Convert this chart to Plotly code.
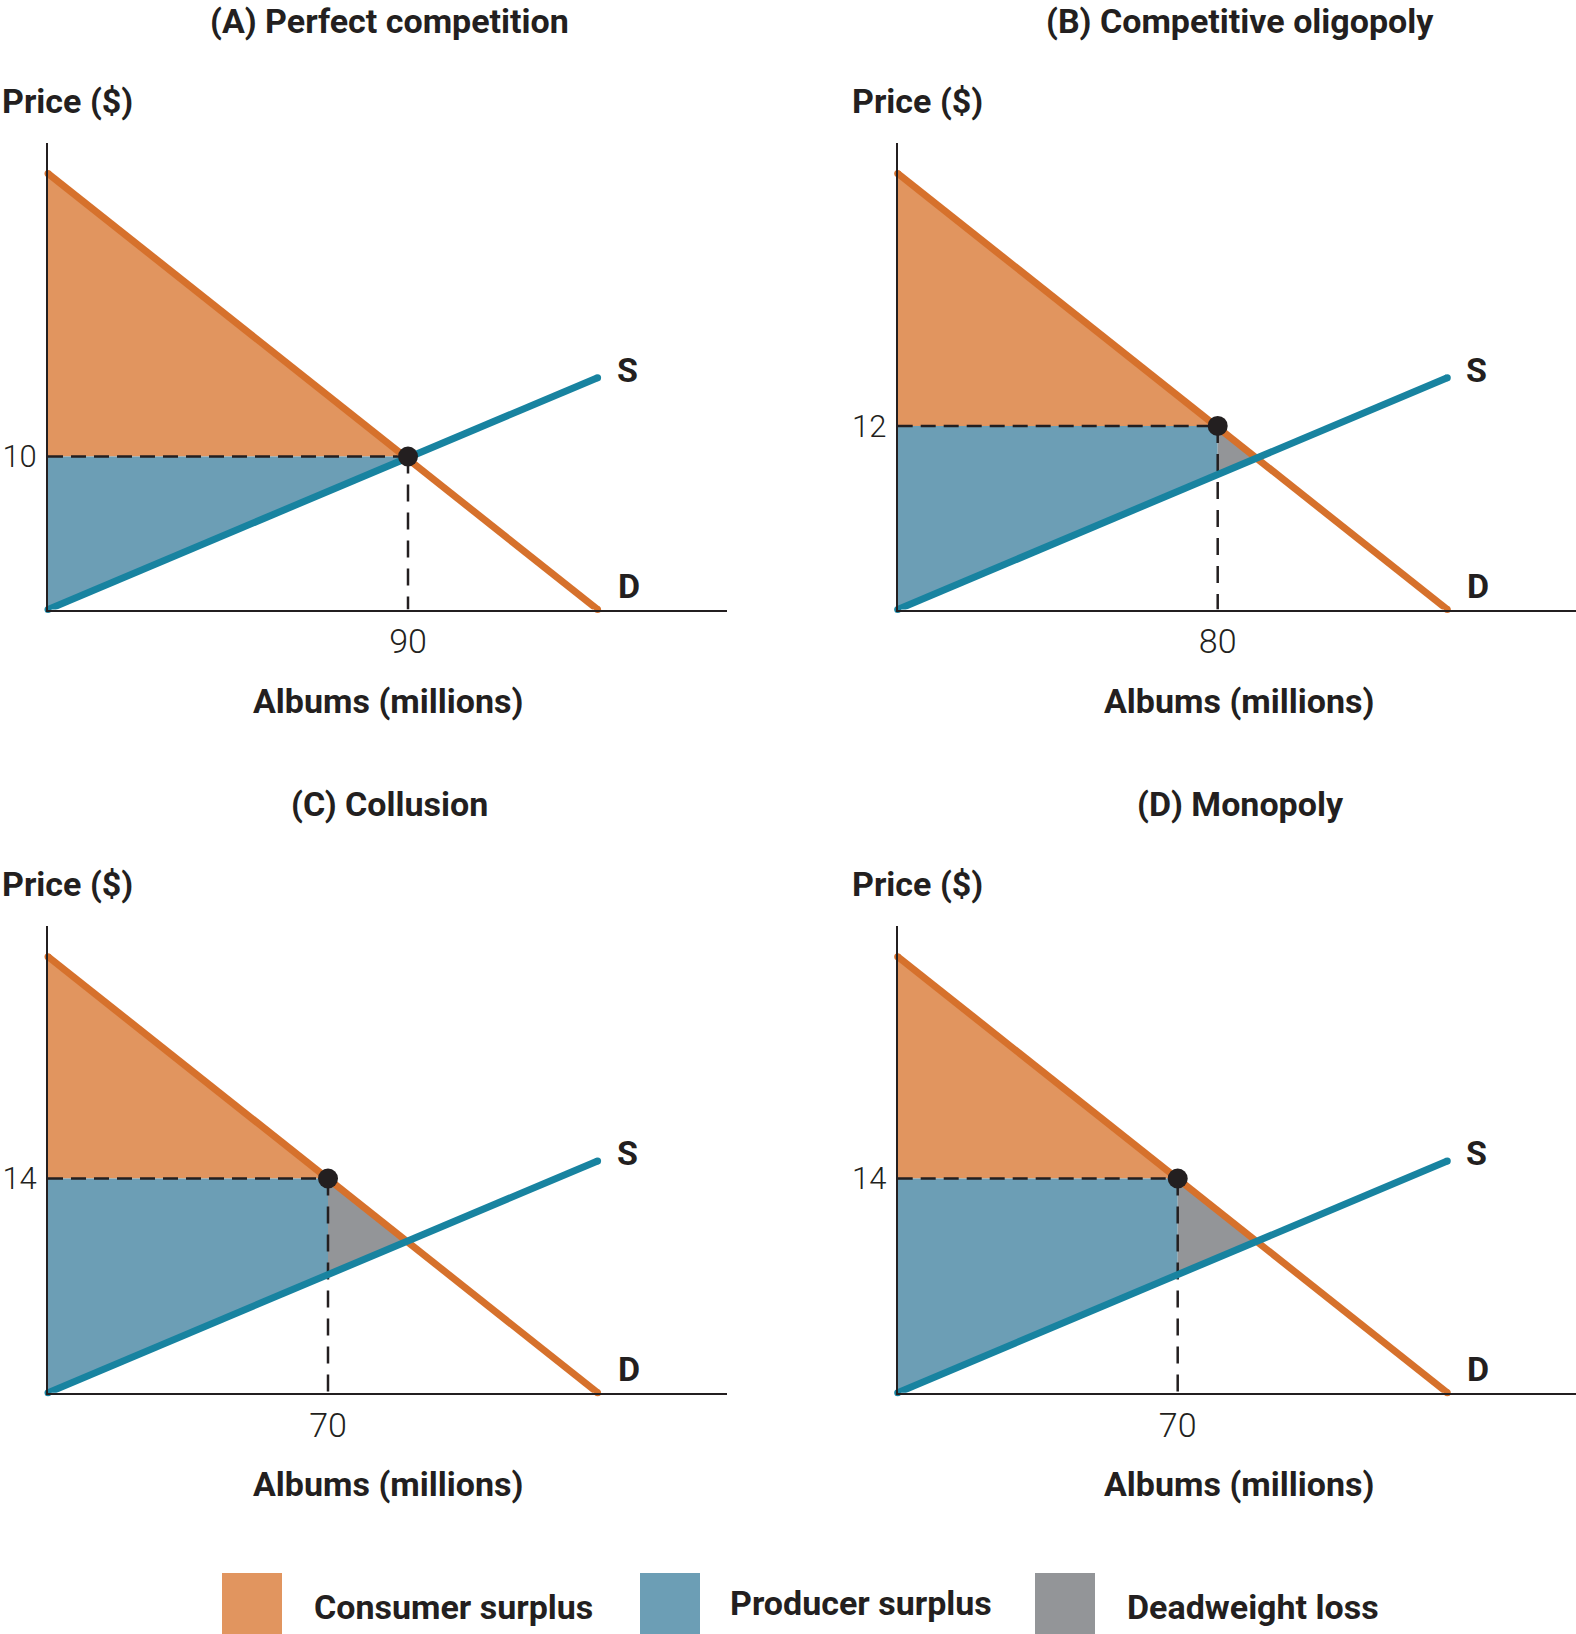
import plotly.graph_objects as go

W, H = 1576, 1634

# demand and supply curves (same in every panel)
demand_q = [0, 137.4]
demand_p = [28.5, 0]
supply_q = [0, 137.4]
supply_p = [0, 15.15]

titles = ['(A) Perfect competition', '(B) Competitive oligopoly',
          '(C) Collusion', '(D) Monopoly']
market_q = [90, 80, 70, 70]
market_p = [10, 12, 14, 14]

legend_labels = ['Consumer surplus', 'Producer surplus', 'Deadweight loss']

CS_FILL = '#E1955F'
PS_FILL = '#6C9EB5'
DWL_FILL = '#939598'
D_LINE = '#D6712C'
S_LINE = '#1883A0'
INK = '#231F20'

FONT = 'Roboto, Liberation Sans, sans-serif'


def lerp(qs, ps, q):
    return ps[0] + (ps[1] - ps[0]) * (q - qs[0]) / (qs[1] - qs[0])


def demand_qty(p):
    return demand_q[0] + (demand_q[1] - demand_q[0]) * (p - demand_p[0]) / (demand_p[1] - demand_p[0])


# equilibrium of the two straight lines
d_slope = (demand_p[1] - demand_p[0]) / (demand_q[1] - demand_q[0])
s_slope = (supply_p[1] - supply_p[0]) / (supply_q[1] - supply_q[0])
q_eq = (demand_p[0] - supply_p[0]) / (s_slope - d_slope)
p_eq = supply_p[0] + s_slope * q_eq

# panel boxes in pixels: left, right, top, bottom
boxes = [(48, 727, 143, 609.5), (897.7, 1576, 143, 609.5),
         (48, 727, 926, 1392.7), (897.7, 1576, 926, 1392.7)]
PX_Q, PX_P = 4.0, 15.3


def px(x):
    return x / W


def py(y):
    return 1 - y / H


fig = go.Figure()
annotations = []
shapes = []

for i in range(4):
    n = '' if i == 0 else str(i + 1)
    xa, ya = 'x' + n, 'y' + n
    q, p = market_q[i], market_p[i]
    s_at_q = lerp(supply_q, supply_p, q)
    common = dict(xaxis=xa, yaxis=ya, hoverinfo='skip', showlegend=False)

    # consumer surplus
    fig.add_trace(go.Scatter(x=[0, 0, demand_qty(p)], y=[p, demand_p[0], p],
                             fill='toself', fillcolor=CS_FILL, mode='lines',
                             line=dict(width=0), **common))
    # producer surplus
    fig.add_trace(go.Scatter(x=[0, 0, q, q], y=[0, p, p, s_at_q],
                             fill='toself', fillcolor=PS_FILL, mode='lines',
                             line=dict(width=0), **common))
    # deadweight loss
    if q < q_eq - 1:
        fig.add_trace(go.Scatter(x=[q, q_eq, q], y=[lerp(demand_q, demand_p, q), p_eq, s_at_q],
                                 fill='toself', fillcolor=DWL_FILL, mode='lines',
                                 line=dict(width=0), **common))
    # dashed guides
    fig.add_trace(go.Scatter(x=[0, q], y=[p, p], mode='lines',
                             line=dict(color=INK, width=2.5, dash='15px,8px'), **common))
    fig.add_trace(go.Scatter(x=[q, q], y=[p, 0], mode='lines',
                             line=dict(color=INK, width=2.5, dash='17px,11px'), **common))
    # curves, with dots at the ends standing in for round caps
    fig.add_trace(go.Scatter(x=demand_q, y=demand_p, mode='lines+markers', cliponaxis=False,
                             line=dict(color=D_LINE, width=7),
                             marker=dict(color=D_LINE, size=7), **common))
    fig.add_trace(go.Scatter(x=supply_q, y=supply_p, mode='lines+markers', cliponaxis=False,
                             line=dict(color=S_LINE, width=7),
                             marker=dict(color=S_LINE, size=7), **common))
    # market point
    fig.add_trace(go.Scatter(x=[q], y=[p], mode='markers', cliponaxis=False,
                             marker=dict(color=INK, size=20), **common))

    left, right, top, bottom = boxes[i]
    fig.layout['xaxis' + n] = dict(
        domain=[px(left), px(right)], range=[0, (right - left) / PX_Q],
        anchor=ya, showgrid=False, zeroline=False, showline=True, automargin=False,
        linecolor=INK, linewidth=2, ticks='', tickvals=[q], ticktext=[str(q)],
        ticklabelstandoff=1, tickfont=dict(family=FONT, size=34, color=INK, weight=300),
        fixedrange=True)
    fig.layout['yaxis' + n] = dict(
        domain=[py(bottom), py(top)], range=[0, (bottom - top) / PX_P],
        anchor=xa, showgrid=False, zeroline=False, showline=True, automargin=False,
        linecolor=INK, linewidth=2, ticks='', tickvals=[p], ticktext=[str(p)],
        ticklabelstandoff=3, tickfont=dict(family=FONT, size=31, color=INK, weight=300),
        fixedrange=True)

    cx = 389 if i % 2 == 0 else 1240
    annotations.append(dict(text='<b>%s</b>' % titles[i], xref='paper', yref='paper',
                            x=px(cx), y=py(top - 122), xanchor='center', yanchor='middle',
                            showarrow=False, font=dict(family=FONT, size=34, color=INK)))
    annotations.append(dict(text='<b>Price ($)</b>', xref='paper', yref='paper',
                            x=px(left - 48), y=py(top - 42), xanchor='left', yanchor='middle',
                            showarrow=False, font=dict(family=FONT, size=34, color=INK)))
    annotations.append(dict(text='<b>Albums (millions)</b>', xref='paper', yref='paper',
                            x=px(cx - 1), y=py(bottom + 91), xanchor='center', yanchor='middle',
                            showarrow=False, font=dict(family=FONT, size=34, color=INK)))
    annotations.append(dict(text='<b>S</b>', xref=xa, yref=ya, x=supply_q[1], y=supply_p[1],
                            xanchor='left', yanchor='middle', xshift=17, yshift=8,
                            showarrow=False, font=dict(family=FONT, size=34, color=INK)))
    annotations.append(dict(text='<b>D</b>', xref=xa, yref=ya, x=demand_q[1], y=demand_p[1],
                            xanchor='left', yanchor='middle', xshift=18, yshift=24,
                            showarrow=False, font=dict(family=FONT, size=34, color=INK)))

# legend swatches and labels
swatch_x = [222, 640, 1035]
label_x = [312, 728, 1125]
label_y = [1607, 1603, 1607]
for k, (lab, col) in enumerate(zip(legend_labels, [CS_FILL, PS_FILL, DWL_FILL])):
    shapes.append(dict(type='rect', xref='paper', yref='paper',
                       x0=px(swatch_x[k]), x1=px(swatch_x[k] + 60), y0=0, y1=py(1573),
                       fillcolor=col, line=dict(width=0)))
    annotations.append(dict(text='<b>%s</b>' % lab, xref='paper', yref='paper',
                            x=px(label_x[k]), y=py(label_y[k]), xanchor='left', yanchor='middle',
                            showarrow=False, font=dict(family=FONT, size=34, color=INK)))

fig.update_layout(
    width=W, height=H, margin=dict(l=0, r=0, t=0, b=0, autoexpand=False),
    paper_bgcolor='white', plot_bgcolor='white', showlegend=False,
    annotations=annotations, shapes=shapes,
)
# drop the page's default 8px body margin so the figure fills the window
fig.write_html('out.html', config={'displayModeBar': False},
               post_script="document.body.style.margin = '0';")
